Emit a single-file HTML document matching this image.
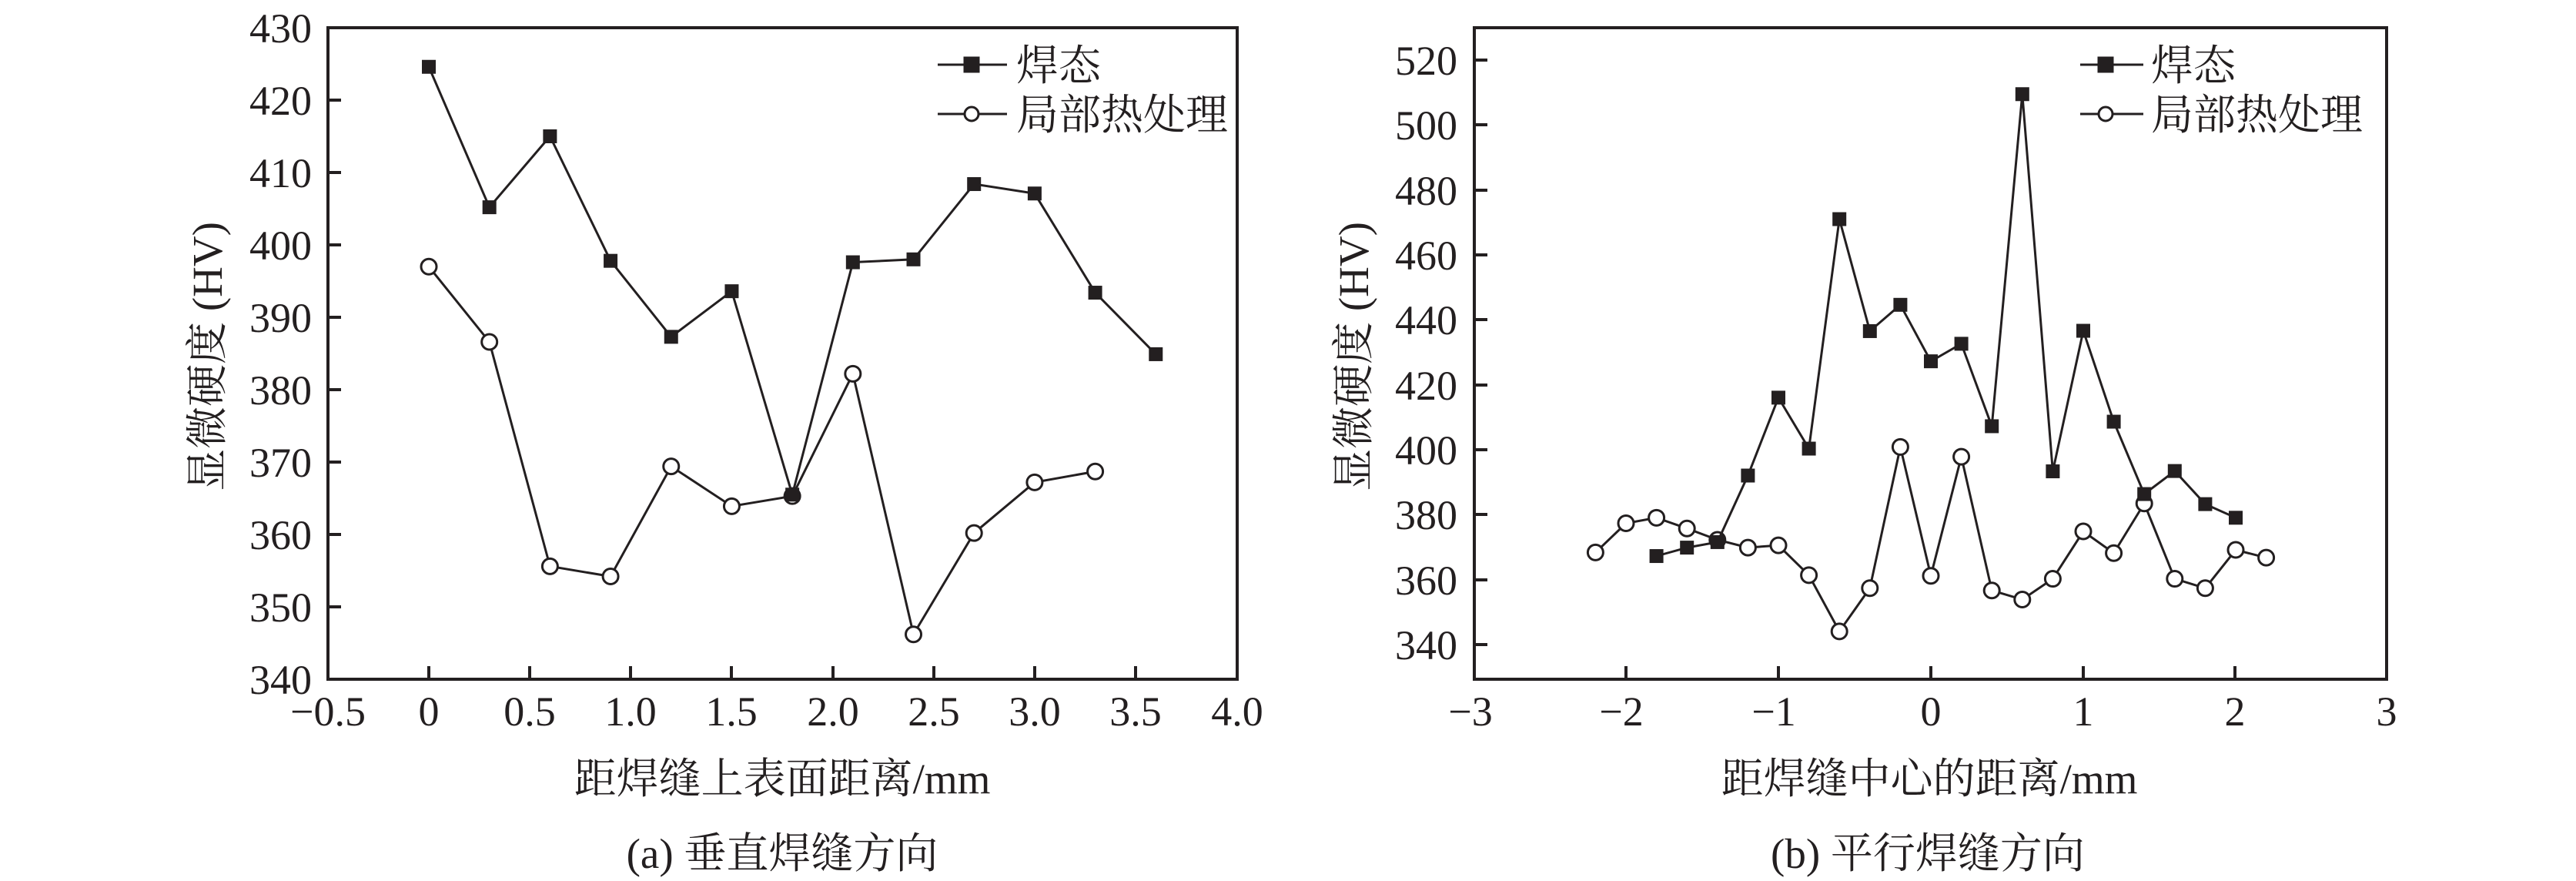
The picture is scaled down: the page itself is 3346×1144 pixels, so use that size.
<!DOCTYPE html>
<html><head><meta charset="utf-8"><style>
html,body{margin:0;padding:0;background:#fff}
svg{display:block}
text{font-family:"Liberation Serif","Noto Serif CJK SC",serif;fill:#231f20}
</style></head><body>
<svg id="s" width="3346" height="1144" viewBox="0 0 3346 1144" xmlns="http://www.w3.org/2000/svg">
<g stroke="#231f20" stroke-width="4" fill="none">
<rect x="426" y="36" width="1181" height="846"/>
<rect x="1915" y="36" width="1185" height="846"/>
<path d="M426 130h17M426 224h17M426 318h17M426 412h17M426 506h17M426 600h17M426 694h17M426 788h17"/>
<path d="M557 882v-17M688 882v-17M819 882v-17M950 882v-17M1082 882v-17M1213 882v-17M1344 882v-17M1475 882v-17"/>
<path d="M1915 78h17M1915 162h17M1915 247h17M1915 331h17M1915 415h17M1915 500h17M1915 584h17M1915 668h17M1915 753h17M1915 837h17"/>
<path d="M2112 882v-17M2310 882v-17M2508 882v-17M2706 882v-17M2903 882v-17"/>
</g>
<g font-size="54" text-anchor="end">
<text x="405" y="55">430</text><text x="405" y="149">420</text><text x="405" y="243">410</text><text x="405" y="337">400</text><text x="405" y="431">390</text><text x="405" y="525">380</text><text x="405" y="619">370</text><text x="405" y="713">360</text><text x="405" y="807">350</text><text x="405" y="901">340</text>
<text x="1893" y="97">520</text><text x="1893" y="181">500</text><text x="1893" y="266">480</text><text x="1893" y="350">460</text><text x="1893" y="434">440</text><text x="1893" y="519">420</text><text x="1893" y="603">400</text><text x="1893" y="687">380</text><text x="1893" y="772">360</text><text x="1893" y="856">340</text>
</g>
<g font-size="54" text-anchor="middle">
<text x="426" y="942">−0.5</text><text x="557" y="942">0</text><text x="688" y="942">0.5</text><text x="819" y="942">1.0</text><text x="950" y="942">1.5</text><text x="1082" y="942">2.0</text><text x="1213" y="942">2.5</text><text x="1344" y="942">3.0</text><text x="1475" y="942">3.5</text><text x="1607" y="942">4.0</text>
<text x="1910" y="942">−3</text><text x="2106" y="942">−2</text><text x="2304" y="942">−1</text><text x="2508" y="942">0</text><text x="2706" y="942">1</text><text x="2903" y="942">2</text><text x="3100" y="942">3</text>
<text x="1016" y="1030" font-size="55">距焊缝上表面距离/mm</text>
<text x="1016" y="1127" font-size="55">(a) 垂直焊缝方向</text>
<text x="2506" y="1030" font-size="55">距焊缝中心的距离/mm</text>
<text x="2504" y="1127" font-size="55">(b) 平行焊缝方向</text>
<text transform="translate(288,463) rotate(-90)" font-size="55">显微硬度 (HV)</text>
<text transform="translate(1777,463) rotate(-90)" font-size="55">显微硬度 (HV)</text>
</g>
<g font-size="55">
<text x="1320" y="104">焊态</text><text x="1320" y="168">局部热处理</text>
<text x="2794" y="104">焊态</text><text x="2794" y="168">局部热处理</text>
</g>
<g stroke="#231f20" stroke-width="3">
<path d="M1218 84h90M1218 148h90M2702 84h82M2702 148h82"/>
<rect x="1253" y="75" width="18" height="18" fill="#231f20"/>
<circle cx="1262" cy="148" r="9" fill="#fff"/>
<rect x="2726" y="75" width="18" height="18" fill="#231f20"/>
<circle cx="2735" cy="148" r="9" fill="#fff"/>
</g>
<g id="d"></g>
</svg>
<script>
var NS="http://www.w3.org/2000/svg",g=document.getElementById("d");
function plot(xs,ys,fx,fy,sq){
 var pts=xs.map(function(x,i){return [fx(x),fy(ys[i])];});
 var pl=document.createElementNS(NS,"polyline");
 pl.setAttribute("points",pts.map(function(p){return p.join(",")}).join(" "));
 pl.setAttribute("fill","none");pl.setAttribute("stroke","#231f20");pl.setAttribute("stroke-width","3");
 g.appendChild(pl);
 pts.forEach(function(p){var e;
  if(sq){e=document.createElementNS(NS,"rect");e.setAttribute("x",p[0]-9);e.setAttribute("y",p[1]-9);e.setAttribute("width",18);e.setAttribute("height",18);e.setAttribute("fill","#231f20");}
  else{e=document.createElementNS(NS,"circle");e.setAttribute("cx",p[0]);e.setAttribute("cy",p[1]);e.setAttribute("r",10);e.setAttribute("fill","#fff");e.setAttribute("stroke","#231f20");e.setAttribute("stroke-width","3");}
  g.appendChild(e);});
}
function rng(a,n,s){var r=[];for(var i=0;i<n;i++)r.push(a+i*s);return r;}
var lx=function(x){return 557+x*262.3},ly=function(y){return 36+(430-y)*9.4};
var rx=function(x){return 2508+x*198},ry=function(y){return 78+(520-y)*4.215};
plot(rng(0,12,0.3),[397,386.6,355.6,354.2,369.4,363.9,365.3,382.2,346.2,360.2,367.2,368.7],lx,ly,false);
plot(rng(0,13,0.3),[424.6,405.2,415,397.8,387.3,393.6,365.5,397.6,398,408.4,407.1,393.4,384.9],lx,ly,true);
plot(rng(-2.2,23,0.2),[368.3,377.3,379,375.7,372.2,369.8,370.5,361.3,344,357.3,400.8,361.1,397.8,356.6,353.8,360.2,374.8,368.1,383.4,360.2,357.3,369.1,366.7],rx,ry,false);
plot(rng(-1.8,20,0.2),[367.2,369.8,371.5,392,416,400.3,471,436.5,444.6,427.2,432.6,407.2,509.5,393.3,436.6,408.6,386.3,393.4,383.2,379],rx,ry,true);
</script>
</body></html>
